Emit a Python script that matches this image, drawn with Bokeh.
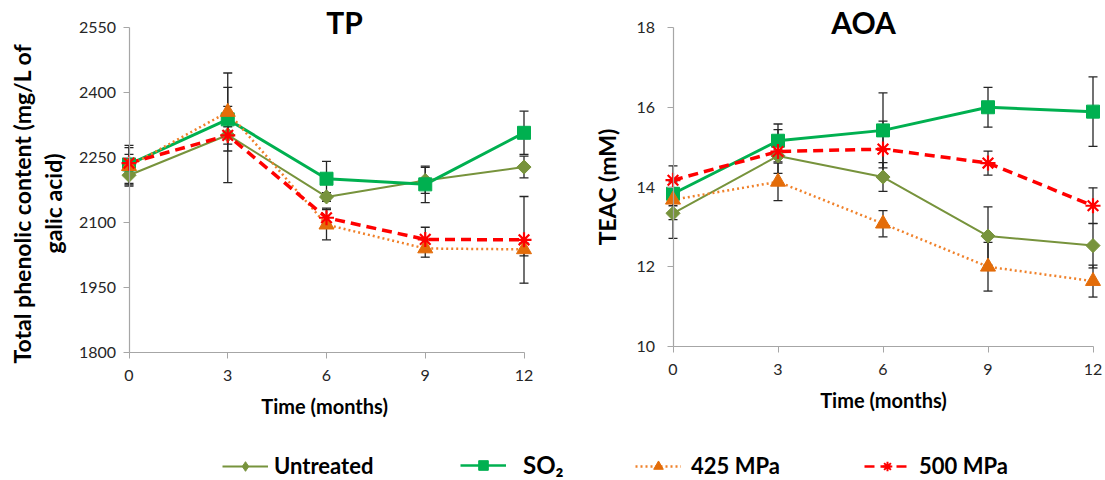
import math
from bokeh.plotting import figure
from bokeh.models import (Range1d, FixedTicker, Whisker, ColumnDataSource, Label,
                          Legend, LegendItem, TeeHead)
from bokeh.layouts import column, row
from bokeh.embed import file_html
from bokeh.resources import INLINE

# ---------------- data ----------------
months = [0, 3, 6, 9, 12]
series_names = ["Untreated", "SO₂", "425 MPa", "500 MPa"]

tp_untreated = [2209, 2302, 2159, 2197, 2228]
tp_so2 = [2234, 2338, 2201, 2188, 2307]
tp_425 = [2230, 2355, 2095, 2040, 2038]
tp_500 = [2237, 2301, 2111, 2061, 2060]
tp_untreated_err = [25, 110, 10, 30, 25]
tp_so2_err = [44, 30, 40, 42, 50]
tp_425_err = [43, 90, 35, 20, 15]
tp_500_err = [20, 20, 22, 28, 100]

aoa_untreated = [13.34, 14.78, 14.25, 12.77, 12.53]
aoa_so2 = [13.83, 15.16, 15.42, 16.00, 15.89]
aoa_425 = [13.68, 14.13, 13.08, 12.00, 11.64]
aoa_500 = [14.17, 14.89, 14.95, 14.60, 13.53]
aoa_untreated_err = [0.63, 0.15, 0.36, 0.73, 0.56]
aoa_so2_err = [0.30, 0.42, 0.94, 0.50, 0.87]
aoa_425_err = [0.50, 0.47, 0.33, 0.61, 0.40]
aoa_500_err = [0.36, 0.55, 0.70, 0.30, 0.45]

tp_ticks = [1800, 1950, 2100, 2250, 2400, 2550]
aoa_ticks = [10, 12, 14, 16, 18]
x_ticks = [0, 3, 6, 9, 12]

# ---------------- styles ----------------
FONT = "Lato"
styles = [
    dict(line_color="#77933C", line_width=2, line_dash="solid",
         marker="square", angle=math.pi / 4, size=10, fill="#77933C",
         legend_marker="diamond"),
    dict(line_color="#00B050", line_width=3, line_dash="solid",
         marker="square", angle=0, size=13, fill="#00B050",
         legend_marker="square"),
    dict(line_color="#F0812A", line_width=2.5, line_dash="2 3",
         marker="triangle", angle=0, size=15, fill="#E36C09",
         legend_marker="triangle"),
    dict(line_color="#FF0000", line_width=3.5, line_dash="10 6",
         marker="asterisk", angle=0, size=15, fill="#FF0000",
         legend_marker="asterisk"),
]

ROW_H = 432


def make_chart(width, px_x0, px_x12, px_top, px_bot, yticks, vals, errs, title,
               title_off, ylabels, xlabel, ylab_standoff):
    # pixel placement of the plot box inside the canvas -> data ranges
    xs = (px_x12 - px_x0) / (x_ticks[-1] - x_ticks[0])
    ys = (px_bot - px_top) / (yticks[-1] - yticks[0])
    xr = (x_ticks[0] - px_x0 / xs, x_ticks[0] + (width - px_x0) / xs)
    yr = (yticks[0] - (ROW_H - px_bot) / ys, yticks[-1] + px_top / ys)
    p = figure(width=width, height=ROW_H, x_range=Range1d(*xr), y_range=Range1d(*yr),
               toolbar_location=None, output_backend="svg", min_border=0)
    p.outline_line_color = None
    p.grid.visible = False
    p.background_fill_color = None
    p.border_fill_color = None

    for ax in (p.xaxis[0], p.yaxis[0]):
        ax.axis_line_color = "#A6A6A6"
        ax.axis_line_width = 1.2
        ax.major_tick_line_color = "#A6A6A6"
        ax.major_tick_in = 0
        ax.major_tick_out = 6
        ax.minor_tick_line_color = None
        ax.major_label_text_font = FONT
        ax.major_label_text_font_size = "16px"
        ax.major_label_text_color = "#262626"
    p.xaxis.major_label_standoff = 11
    p.yaxis.major_label_standoff = ylab_standoff
    p.xaxis.ticker = FixedTicker(ticks=x_ticks)
    p.yaxis.ticker = FixedTicker(ticks=yticks)
    p.xaxis.bounds = (x_ticks[0], x_ticks[-1])
    p.yaxis.bounds = (yticks[0], yticks[-1])
    p.yaxis.fixed_location = x_ticks[0]
    p.xaxis.fixed_location = yticks[0]
    p.xaxis.axis_label = xlabel
    p.xaxis.axis_label_text_font = FONT
    p.xaxis.axis_label_text_font_style = "bold"
    p.xaxis.axis_label_text_font_size = "20px"
    p.xaxis.axis_label_text_color = "black"
    p.xaxis.axis_label_standoff = 10

    for v, e, st in zip(vals, errs, styles):
        src = ColumnDataSource(dict(x=months, y=v,
                                    upper=[a + b for a, b in zip(v, e)],
                                    lower=[a - b for a, b in zip(v, e)]))
        w = Whisker(source=src, base="x", upper="upper", lower="lower",
                    line_color="#262626", line_width=1.3, level="underlay",
                    upper_head=TeeHead(size=9, line_color="#262626", line_width=1.3),
                    lower_head=TeeHead(size=9, line_color="#262626", line_width=1.3))
        p.add_layout(w)
        p.line("x", "y", source=src, line_color=st["line_color"],
               line_width=st["line_width"], line_dash=st["line_dash"])
    for v, st in zip(vals, styles):
        src = ColumnDataSource(dict(x=months, y=v))
        if st["marker"] == "asterisk":
            p.scatter("x", "y", source=src, marker="asterisk", size=st["size"],
                      line_color=st["fill"], line_width=2.2)
        else:
            p.scatter("x", "y", source=src, marker=st["marker"], size=st["size"],
                      angle=st["angle"], fill_color=st["fill"], line_color=st["fill"])

    mid = (yticks[0] + yticks[-1]) / 2
    p.add_layout(Label(x=6, y=yticks[-1], x_offset=title_off, y_offset=6, text=title,
                       text_font=FONT, text_font_style="bold",
                       text_font_size="30px", text_align="center",
                       text_baseline="alphabetic", text_color="black"))
    for txt, xo, yo in ylabels:
        p.add_layout(Label(x=0, y=mid, x_offset=xo, y_offset=yo, text=txt,
                           angle=math.pi / 2, text_font=FONT,
                           text_font_style="bold", text_font_size="23px",
                           text_align="center", text_baseline="middle",
                           text_color="black"))
    return p


p1 = make_chart(560, 128.5, 523.5, 27, 352, tp_ticks,
                [tp_untreated, tp_so2, tp_425, tp_500],
                [tp_untreated_err, tp_so2_err, tp_425_err, tp_500_err],
                "TP", 18,
                [("Total phenolic content (mg/L of", -107.5, -13.5),
                 ("galic acid)", -76, -13.5)],
                "Time  (months)", 7)

p2 = make_chart(545, 112.5, 532.5, 27, 346, aoa_ticks,
                [aoa_untreated, aoa_so2, aoa_425, aoa_500],
                [aoa_untreated_err, aoa_so2_err, aoa_425_err, aoa_500_err],
                "AOA", -19.5,
                [("TEAC (mM)", -66, 0)],
                "Time (months)", 12)

# ---------------- legend strip ----------------
p3 = figure(width=1105, height=480 - ROW_H, x_range=Range1d(0, 1), y_range=Range1d(0, 1),
            toolbar_location=None, output_backend="svg", min_border=0,
            x_axis_location=None, y_axis_location=None)
p3.outline_line_color = None
p3.grid.visible = False

legend_x = [222, 460, 635, 864]
legend_standoff = [6, 17, 10, 9]
legend_font = ["22px", "24px", "22px", "22px"]
for name, st, lx, so, fs, v in zip(series_names, styles, legend_x, legend_standoff,
                                   legend_font, [tp_untreated, tp_so2, tp_425, tp_500]):
    lr = p3.line(x=months, y=v, line_color=st["line_color"],
                 line_width=min(st["line_width"], 2.5), line_dash=st["line_dash"])
    if st["legend_marker"] == "asterisk":
        sr = p3.scatter(x=months, y=v, marker="asterisk", size=st["size"],
                        line_color=st["fill"], line_width=2)
    else:
        sr = p3.scatter(x=months, y=v, marker=st["legend_marker"], size=st["size"],
                        fill_color=st["fill"], line_color=st["fill"])
    lg = Legend(items=[LegendItem(label=name, renderers=[lr, sr])],
                location=(lx, 1), orientation="horizontal",
                glyph_width=46, glyph_height=24, label_height=24,
                padding=0, margin=0, border_line_color=None,
                background_fill_alpha=0, label_standoff=so,
                label_text_font=FONT, label_text_font_style="bold",
                label_text_font_size=fs, label_text_color="black")
    p3.add_layout(lg)

layout = column(row(p1, p2), p3)
open("out.html", "w").write(file_html(layout, INLINE))
